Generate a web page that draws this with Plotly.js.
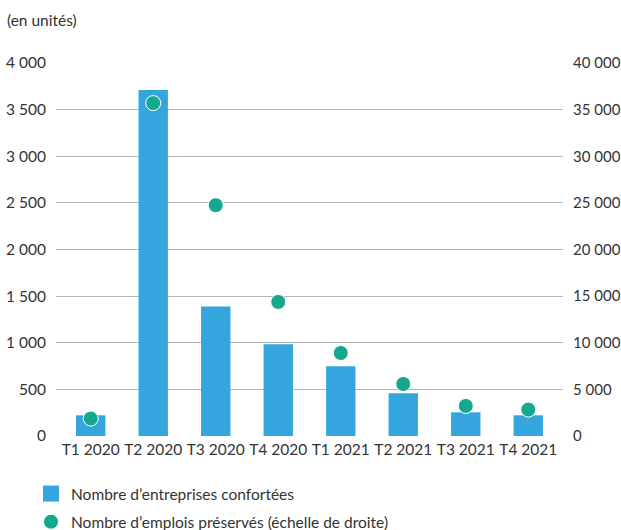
<!DOCTYPE html>
<html>
<head>
<meta charset="utf-8">
<script src="https://cdn.plot.ly/plotly-3.0.1.min.js"></script>
<style>html,body{margin:0;padding:0;background:#fff;}#chart{width:621px;height:530px;}</style>
</head>
<body>
<div id="chart"></div>
<script>
const categories = ["T1 2020","T2 2020","T3 2020","T4 2020","T1 2021","T2 2021","T3 2021","T4 2021"];
const entreprises = [222, 3710, 1390, 984, 748, 458, 254, 222];
const emplois = [1870, 35700, 24750, 14380, 8900, 5580, 3220, 2830];
const leftTicks = [0,500,1000,1500,2000,2500,3000,3500,4000];
const rightTicks = [0,5000,10000,15000,20000,25000,30000,35000,40000];
const seriesNames = ["Nombre d’entreprises confortées", "Nombre d’emplois préservés (échelle de droite)"];

const FONT = "Lato, 'Open Sans', sans-serif";
const FS = 15.5;
const TXT = "#333333";
const BAR = "#34A6DD";
const DOT = "#14A88E";

const data = [
  {
    type: "bar", name: seriesNames[0], showlegend: false, legendgroup: "a",
    x: categories, y: entreprises,
    marker: {color: BAR}, yaxis: "y"
  },
  {
    // legend entry only (no points) to show a larger square swatch
    type: "scatter", mode: "markers", name: seriesNames[0], legendgroup: "a",
    x: [null], y: [null], yaxis: "y",
    marker: {color: BAR, symbol: "square", size: 16}
  },
  {
    type: "scatter", mode: "markers", name: seriesNames[1], legendgroup: "b",
    x: categories, y: emplois, yaxis: "y2",
    marker: {color: DOT, size: 15, line: {color: "#ffffff", width: 1}}
  }
];

const layout = {
  width: 621, height: 530,
  margin: {l: 56, r: 58, t: 63, b: 94, pad: 0, autoexpand: false},
  paper_bgcolor: "#fff", plot_bgcolor: "#fff",
  font: {family: FONT, size: FS, color: TXT},
  separators: ", ",
  bargap: 0.53,
  showlegend: true,
  title: {text: "(en unités)", x: 7/621, xanchor: "left", xref: "container",
          y: 1 - 21/530, yanchor: "middle", yref: "container",
          font: {family: FONT, size: FS, color: TXT}},
  xaxis: {
    type: "category", showline: false, ticks: "", showgrid: false, zeroline: false,
    tickangle: 0, automargin: false,
    tickfont: {family: FONT, size: FS, color: TXT}, ticklabelstandoff: 2
  },
  yaxis: {
    range: [0, 4000], tickvals: leftTicks, tickformat: ",d", automargin: false,
    showgrid: true, gridcolor: "#b5b5b5", gridwidth: 1,
    zeroline: true, zerolinecolor: "#ffffff", zerolinewidth: 1,
    showline: false, ticks: "", ticklabelstandoff: 9,
    tickfont: {family: FONT, size: 15.5, color: TXT}, fixedrange: true
  },
  yaxis2: {
    range: [0, 40000], tickvals: rightTicks, tickformat: ",d", automargin: false,
    overlaying: "y", side: "right", showgrid: false, zeroline: false,
    showline: false, ticks: "", ticklabelstandoff: 9,
    tickfont: {family: FONT, size: 15, color: TXT}, fixedrange: true
  },
  legend: {
    orientation: "v", x: (31 - 56)/507, xanchor: "left",
    y: -(477 - 436)/373, yanchor: "top",
    font: {family: FONT, size: FS, color: TXT}, bgcolor: "rgba(0,0,0,0)",
    traceorder: "grouped", tracegroupgap: 5, itemclick: false
  }
};

Plotly.newPlot("chart", data, layout, {displayModeBar: false, staticPlot: true});
</script>
</body>
</html>
